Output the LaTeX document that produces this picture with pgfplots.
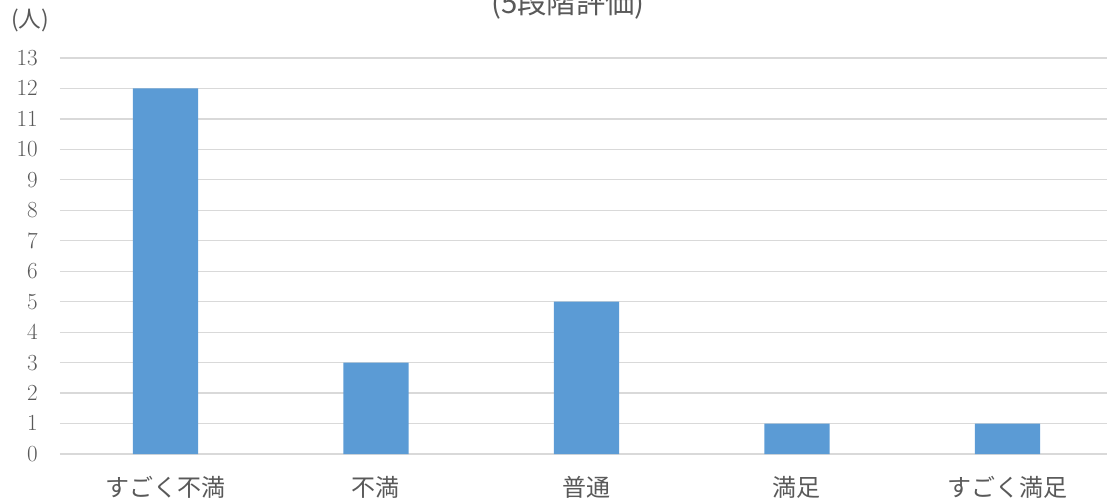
\documentclass[border=0pt]{standalone}
\usepackage{pgfplots}
\pgfplotsset{compat=1.18}
\usepackage{fontspec}
\newfontfamily\jp{Noto Sans CJK JP}
\definecolor{barblue}{HTML}{5B9BD5}
\definecolor{gridgray}{HTML}{D9D9D9}
\definecolor{txtgray}{HTML}{595959}
\begin{document}
\begin{tikzpicture}
\begin{axis}[name=ax, scale only axis, width=785.25pt, height=297pt,
  xmin=-0.501, xmax=4.473, ymin=0, ymax=13,
  ytick={0,...,13}, xtick={0,...,4},
  xticklabels={すごく不満,不満,普通,満足,すごく満足},
  ymajorgrids, major grid style={gridgray, line width=0.9pt},
  axis line style={draw=none}, major tick length=0pt,
  tick label style={text=txtgray, font=\fontsize{19}{22}\selectfont},
  xticklabel style={font=\jp\fontsize{18}{22}\selectfont, anchor=north, inner sep=0pt, yshift=-16.5pt},
  yticklabel style={anchor=east, inner sep=0pt, xshift=-16.5pt},
  clip=false]
\addplot[ybar, bar width=0.31, fill=barblue, draw=none] coordinates {(0,12) (1,3) (2,5) (3,1) (4,1)};
\end{axis}
\node[anchor=base, font=\jp\fontsize{22}{26}\selectfont, text=txtgray] at ([xshift=381pt, yshift=33.75pt]ax.north west) {(5段階評価)};
\node[font=\jp\fontsize{17}{20}\selectfont, text=txtgray] at ([xshift=-22.5pt, yshift=28.5pt]ax.north west) {(人)};
\pgfresetboundingbox
\path[use as bounding box] ([xshift=-45pt,yshift=-35.25pt]ax.south west) rectangle ([yshift=43.5pt]ax.north east);
\end{tikzpicture}
\end{document}
